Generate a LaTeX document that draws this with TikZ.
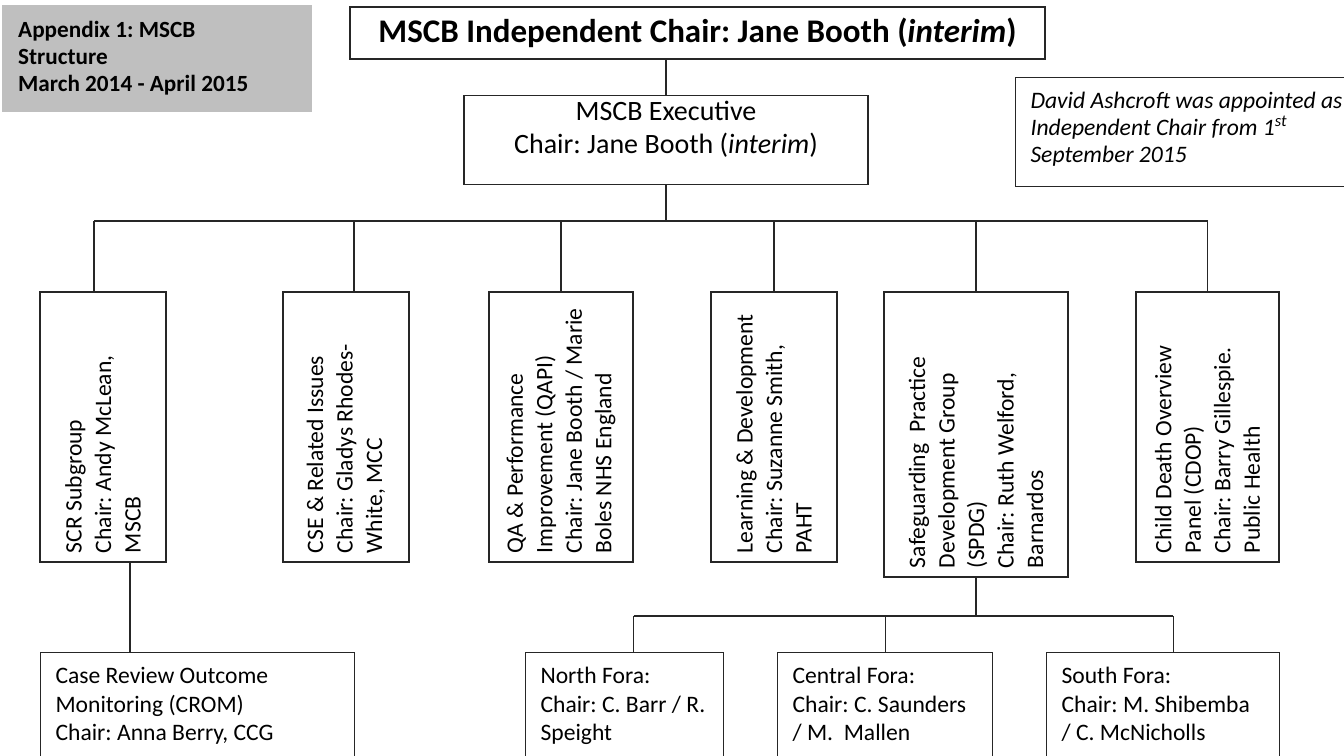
\documentclass[tikz,border=0pt]{standalone}
\usepackage{fontspec}
\setmainfont{Carlito}
\definecolor{apxgrey}{RGB}{191,191,191}
\frenchspacing
\begin{document}
\begin{tikzpicture}[x=1pt, y=-1pt,
        box/.style={draw=black!85, line width=1.1pt, inner sep=0pt, font=\fontsize{23.6}{29.5}\selectfont},
        vbox/.style={box, rotate=90, align=flush left, minimum width=270pt, text width=252pt, inner xsep=9pt},
        fbox/.style={box, anchor=north west, align=flush left, inner xsep=15pt, inner ysep=14pt, text height=17pt, text depth=90pt, font=\fontsize{23.6}{28.5}\selectfont},
        link/.style={draw=black!85, line width=1.1pt}]
                \useasboundingbox (0,0) rectangle (1344,755);
                \node[fill=apxgrey, anchor=north west, align=flush left, text width=278pt, inner xsep=16pt, inner ysep=15pt, text height=17pt, text depth=60pt, font=\bfseries\fontsize{23.2}{27}\selectfont] (appx) at (2,5) {Appendix 1: MSCB\\Structure\\March 2014 - April 2015};
                \node[box, minimum width=695pt, minimum height=52pt, font=\bfseries\fontsize{33}{40}\selectfont] (chair) at (697.5,33) {MSCB Independent Chair: Jane Booth (\textit{interim})};
                \node[box, anchor=north, align=flush center, minimum width=404pt, text width=390pt, inner ysep=6pt, text height=19pt, text depth=58pt, font=\fontsize{28}{33}\selectfont] (exec) at (666,95) {MSCB Executive\\Chair: Jane Booth (\textit{interim})};
                \node[box, anchor=north west, align=flush left, text width=340pt, inner xsep=15pt, inner ysep=14pt, text height=17pt, text depth=64pt, font=\itshape\fontsize{23.6}{27}\selectfont] (note) at (1015,77) {David Ashcroft was appointed as\\Independent Chair from 1\textsuperscript{st}\\September 2015};
                \node[vbox, minimum height=126pt] (scr) at (103,427) {SCR Subgroup\\Chair: Andy McLean,\\MSCB};
                \node[vbox, minimum height=126pt] (cse) at (346,427) {CSE \& Related Issues\\Chair: Gladys Rhodes-\\White, MCC};
                \node[vbox, minimum height=144pt] (qapi) at (561,427) {QA \& Performance\\Improvement (QAPI)\\Chair: Jane Booth / Marie\\Boles NHS England};
                \node[vbox, minimum height=126pt] (lnd) at (774,427) {Learning \& Development\\Chair: Suzanne Smith,\\PAHT};
                \node[vbox, minimum width=285pt, text width=267pt, minimum height=184pt] (spdg) at (976,434.5) {Safeguarding\ \ Practice\\Development Group\\(SPDG)\\Chair: Ruth Welford,\\Barnardos};
                \node[vbox, minimum height=143pt] (cdop) at (1207.5,427) {Child Death Overview\\Panel (CDOP)\\Chair: Barry Gillespie.\\Public Health};
                \node[fbox, minimum width=314pt, text width=284pt] (crom) at (40,652) {Case Review Outcome\\Monitoring (CROM)\\Chair: Anna Berry, CCG};
                \node[fbox, minimum width=198pt, text width=168pt] (nfora) at (525,652) {North Fora:\\Chair: C. Barr / R.\\Speight};
                \node[fbox, minimum width=215pt, text width=185pt] (cfora) at (777,652) {Central Fora:\\Chair: C. Saunders\\/ M.\ \ Mallen};
                \node[fbox, minimum width=233pt, text width=203pt] (sfora) at (1046,652) {South Fora:\\Chair: M. Shibemba\\/ C. McNicholls};
                \coordinate (bus) at (0,221);
                \coordinate (subbus) at (0,616);
                \coordinate (scrup) at ([xshift=-9pt]scr.east);
                \coordinate (cseup) at ([xshift=8pt]cse.east);
                \coordinate (scrdown) at ([xshift=27pt]scr.west);
                \coordinate (nup) at ([xshift=9pt]nfora.north);
                \coordinate (sup) at ([xshift=10pt]sfora.north);
                \draw[link] (chair.south -| exec.north) -- (exec.north);
                \draw[link] (exec.south) -- (exec.south |- bus);
                \draw[link] (scrup |- bus) -- (cdop.east |- bus);
                \draw[link] (scrup |- bus) -- (scrup);
                \draw[link] (cseup |- bus) -- (cseup);
                \draw[link] (qapi.east |- bus) -- (qapi.east);
                \draw[link] (lnd.east |- bus) -- (lnd.east);
                \draw[link] (spdg.east |- bus) -- (spdg.east);
                \draw[link] (cdop.east |- bus) -- (cdop.east);
                \draw[link] (scrdown) -- (scrdown |- crom.north);
                \draw[link] (spdg.west) -- (spdg.west |- subbus);
                \draw[link] (nup |- subbus) -- (sup |- subbus);
                \draw[link] (nup |- subbus) -- (nup);
                \draw[link] (cfora.north |- subbus) -- (cfora.north);
                \draw[link] (sup |- subbus) -- (sup);
\end{tikzpicture}
\end{document}
